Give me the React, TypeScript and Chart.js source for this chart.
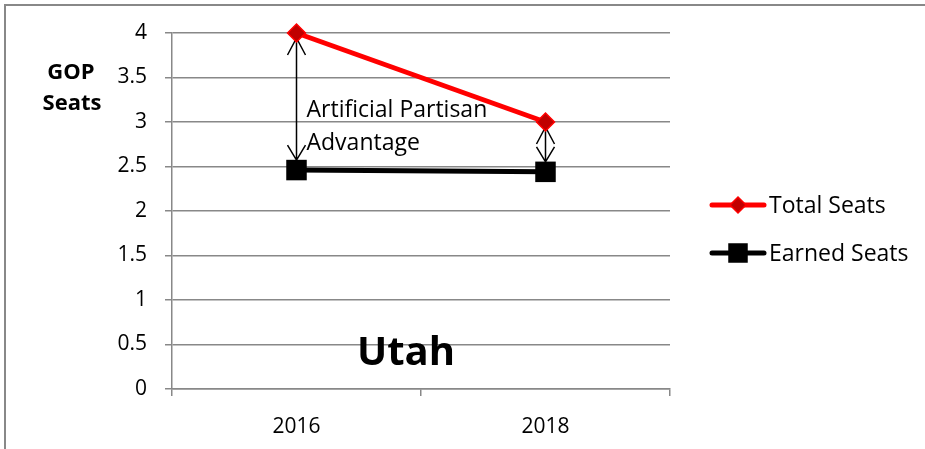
import React, { useEffect, useRef } from 'react';
import { Chart, registerables } from 'chart.js';

Chart.register(...registerables);

const categories = ['2016', '2018'];
const totalSeats = [4, 3];
const earnedSeats = [2.46, 2.44];
const seriesNames = ['Total Seats', 'Earned Seats'];
const seriesColors = ['#FF0000', '#000000'];
const markerFill = ['#C00000', '#000000'];
const annotationLines = ['Artificial Partisan', 'Advantage'];
const stateName = 'Utah';
const axisTitleLines = ['GOP', 'Seats'];
const yMin = 0;
const yMax = 4;
const yStep = 0.5;

const FONT = '"Open Sans", "DejaVu Sans", sans-serif';
const GRID = '#888888';

const decorPlugin = {
  id: 'decor',
  beforeDraw(chart: any) {
    const ctx = chart.ctx;
    ctx.save();
    ctx.fillStyle = '#ffffff';
    ctx.fillRect(0, 0, chart.width, chart.height);
    ctx.strokeStyle = GRID;
    ctx.lineWidth = 2;
    ctx.beginPath();
    ctx.moveTo(5, chart.height);
    ctx.lineTo(5, 5);
    ctx.lineTo(chart.width, 5);
    ctx.stroke();
    ctx.restore();
  },
  beforeDatasetsDraw(chart: any) {
    const ctx = chart.ctx;
    const xs = chart.scales.x;
    const ys = chart.scales.y;
    ctx.save();
    ctx.strokeStyle = '#000';
    ctx.lineWidth = 1.5;
    for (let i = 0; i < categories.length; i++) {
      const x = xs.getPixelForValue(i);
      const y1 = ys.getPixelForValue(totalSeats[i]) + 5;
      const y2 = ys.getPixelForValue(earnedSeats[i]) - 10;
      ctx.beginPath();
      ctx.moveTo(x, y1);
      ctx.lineTo(x, y2);
      ctx.moveTo(x - 9, y1 + 17);
      ctx.lineTo(x, y1);
      ctx.lineTo(x + 9, y1 + 17);
      ctx.moveTo(x - 9, y2 - 15);
      ctx.lineTo(x, y2);
      ctx.lineTo(x + 9, y2 - 15);
      ctx.stroke();
    }
    ctx.restore();
  },
  afterDatasetsDraw(chart: any) {
    const ctx = chart.ctx;
    const xs = chart.scales.x;
    ctx.save();
    // annotation text
    const x0 = xs.getPixelForValue(0);
    ctx.fillStyle = '#000';
    ctx.font = `23px ${FONT}`;
    ctx.textAlign = 'left';
    ctx.textBaseline = 'middle';
    ctx.fillText(annotationLines[0], x0 + 10, 110);
    ctx.fillText(annotationLines[1], x0 + 10, 143);
    // state name
    ctx.font = `bold 40px ${FONT}`;
    ctx.textBaseline = 'alphabetic';
    ctx.fillText(stateName, 357, 365);
    // axis title
    ctx.font = `bold 22px ${FONT}`;
    ctx.textAlign = 'center';
    ctx.textBaseline = 'middle';
    ctx.fillText(axisTitleLines[0], 71, 73);
    ctx.fillText(axisTitleLines[1], 72, 104);
    // legend
    const legendY = [205, 253];
    for (let i = 0; i < seriesNames.length; i++) {
      const y = legendY[i];
      ctx.strokeStyle = seriesColors[i];
      ctx.lineWidth = 5;
      ctx.lineCap = 'round';
      ctx.beginPath();
      ctx.moveTo(712, y);
      ctx.lineTo(764, y);
      ctx.stroke();
      ctx.lineCap = 'butt';
      ctx.fillStyle = markerFill[i];
      ctx.strokeStyle = seriesColors[i];
      ctx.lineWidth = 1.5;
      ctx.beginPath();
      if (i === 0) {
        ctx.moveTo(738, y - 8);
        ctx.lineTo(746, y);
        ctx.lineTo(738, y + 8);
        ctx.lineTo(730, y);
        ctx.closePath();
      } else {
        ctx.rect(729, y - 9, 18, 18);
      }
      ctx.fill();
      ctx.stroke();
      ctx.fillStyle = '#000';
      ctx.font = `23px ${FONT}`;
      ctx.textAlign = 'left';
      ctx.textBaseline = 'middle';
      ctx.fillText(seriesNames[i], 769, y + 1);
    }
    ctx.restore();
  },
};

export default function App() {
  const ref = useRef<HTMLCanvasElement | null>(null);
  useEffect(() => {
    document.body.style.margin = '0';
    const canvas = ref.current!;
    const chart = new Chart(canvas, {
      type: 'line',
      data: {
        labels: categories,
        datasets: [
          {
            label: seriesNames[0],
            data: totalSeats,
            borderColor: seriesColors[0],
            backgroundColor: markerFill[0],
            borderWidth: 5,
            pointStyle: 'rectRot',
            pointRadius: 9,
            pointBorderWidth: 1.5,
            pointBorderColor: seriesColors[0],
            pointBackgroundColor: markerFill[0],
            tension: 0,
            clip: false,
          },
          {
            label: seriesNames[1],
            data: earnedSeats,
            borderColor: seriesColors[1],
            backgroundColor: markerFill[1],
            borderWidth: 5,
            pointStyle: 'rect',
            pointRadius: 14.5,
            pointBorderWidth: 0,
            pointBackgroundColor: markerFill[1],
            tension: 0,
            clip: false,
          },
        ],
      },
      options: {
        responsive: false,
        animation: false,
        devicePixelRatio: 1,
        layout: { padding: { left: 0, top: 33, right: 255, bottom: 0 } },
        plugins: {
          legend: { display: false },
          tooltip: { enabled: false },
        },
        scales: {
          x: {
            offset: true,
            grid: {
              offset: true,
              drawOnChartArea: false,
              drawTicks: true,
              tickLength: 7,
              color: GRID,
              lineWidth: 1.5,
            },
            border: { display: true, color: GRID, width: 1.5 },
            ticks: {
              color: '#000',
              font: { family: FONT, size: 21 },
              padding: 18,
            },
            afterFit: (s: any) => {
              s.height = 60;
            },
          },
          y: {
            min: yMin,
            max: yMax,
            ticks: {
              stepSize: yStep,
              color: '#000',
              font: { family: FONT, size: 21 },
              padding: 18,
              callback: (v: any) => String(Number(v)),
            },
            grid: {
              color: GRID,
              lineWidth: 1.5,
              tickLength: 7,
            },
            border: { display: true, color: GRID, width: 1.5 },
            afterFit: (s: any) => {
              s.width = 172;
            },
          },
        },
      },
      plugins: [decorPlugin],
    });
    return () => chart.destroy();
  }, []);
  return (
    <div style={{ width: 925, height: 449 }}>
      <canvas ref={ref} width={925} height={449} style={{ display: 'block' }} />
    </div>
  );
}
